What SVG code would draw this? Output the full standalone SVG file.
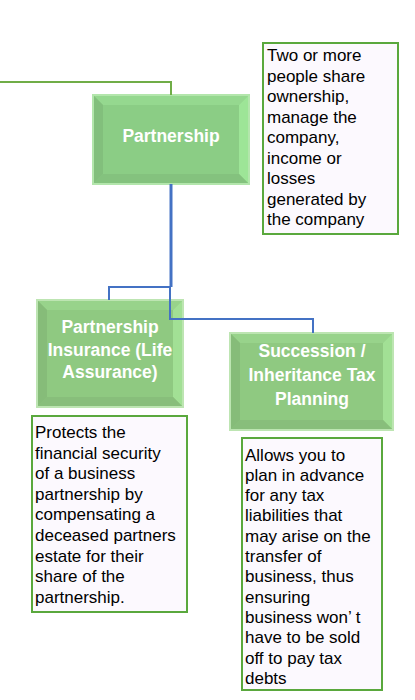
<svg xmlns="http://www.w3.org/2000/svg" width="415" height="700" viewBox="0 0 415 700">
<style>
.base{fill:#8BCD85;stroke:#B3E6AC;stroke-width:2}
.base2{fill:#8FC981;stroke:#BDE5B2;stroke-width:2}
.bt{fill:#95D88F}
.br{fill:#9DE597}
.bb{fill:#84C27E}
.bl{fill:#82BF7C}
.bt2{fill:#98D38B}
.br2{fill:#A2E095}
.bb2{fill:#88BE7B}
.bl2{fill:#86BC79}
.lbl{font-family:"Liberation Sans",Arial,sans-serif;font-weight:bold;font-size:17.5px;fill:#FFFFFF;text-anchor:middle}
.note{fill:#FCF9FE;stroke:#5AA83D;stroke-width:2}
.nt{font-family:"Liberation Sans",Arial,sans-serif;font-size:17px;fill:#000000}
.g{fill:none;stroke:#70AD47;stroke-width:2}
.b{fill:none;stroke:#4472C4;stroke-width:2}
.b3{fill:none;stroke:#4472C4;stroke-width:3}
</style>
<rect width="415" height="700" fill="#FFFFFF"/>

<g id="node-partnership">
<rect class="base" x="93" y="95" width="156" height="89"/>
<polygon class="bt" points="94,96 248,96 239,105 103,105"/>
<polygon class="br" points="248,96 248,183 239,174 239,105"/>
<polygon class="bb" points="94,183 248,183 239,174 103,174"/>
<polygon class="bl" points="94,96 103,105 103,174 94,183"/>
<rect x="103" y="105" width="136" height="69" fill="#8BCD85"/>
<text class="lbl" x="171" y="142">Partnership</text>
</g>

<g id="node-insurance">
<rect class="base2" x="37" y="300" width="146" height="107"/>
<polygon class="bt2" points="38,301 182,301 173,310 47,310"/>
<polygon class="br2" points="182,301 182,406 173,397 173,310"/>
<polygon class="bb2" points="38,406 182,406 173,397 47,397"/>
<polygon class="bl2" points="38,301 47,310 47,397 38,406"/>
<rect x="47" y="310" width="126" height="87" fill="#8FC981"/>
<text class="lbl" x="110" y="333">Partnership</text>
<text class="lbl" x="110" y="356">Insurance (Life</text>
<text class="lbl" x="110" y="378">Assurance)</text>
</g>

<g id="node-succession">
<rect class="base2" x="230" y="333" width="163" height="97"/>
<polygon class="bt2" points="231,334 392,334 383,343 240,343"/>
<polygon class="br2" points="392,334 392,429 383,420 383,343"/>
<polygon class="bb2" points="231,429 392,429 383,420 240,420"/>
<polygon class="bl2" points="231,334 240,343 240,420 231,429"/>
<rect x="240" y="343" width="143" height="77" fill="#8FC981"/>
<text class="lbl" x="312" y="357">Succession /</text>
<text class="lbl" x="312" y="381">Inheritance Tax</text>
<text class="lbl" x="312" y="405">Planning</text>
</g>

<g id="note-partnership">
<rect class="note" x="263" y="43" width="135" height="191"/>
<text class="nt" x="267" y="61">Two or more</text>
<text class="nt" x="267" y="81.5">people share</text>
<text class="nt" x="267" y="102">ownership,</text>
<text class="nt" x="267" y="122.5">manage the</text>
<text class="nt" x="267" y="143">company,</text>
<text class="nt" x="267" y="163.5">income or</text>
<text class="nt" x="267" y="184">losses</text>
<text class="nt" x="267" y="204.5">generated by</text>
<text class="nt" x="267" y="225">the company</text>
</g>

<g id="note-insurance">
<rect class="note" x="32" y="416" width="155" height="196"/>
<text class="nt" x="35" y="438">Protects the</text>
<text class="nt" x="35" y="458.6">financial security</text>
<text class="nt" x="35" y="479.2">of a business</text>
<text class="nt" x="35" y="499.8">partnership by</text>
<text class="nt" x="35" y="520.4">compensating a</text>
<text class="nt" x="35" y="541">deceased partners</text>
<text class="nt" x="35" y="561.6">estate for their</text>
<text class="nt" x="35" y="582.2">share of the</text>
<text class="nt" x="35" y="602.8">partnership.</text>
</g>

<g id="note-succession">
<rect class="note" x="242" y="438" width="140" height="252"/>
<text class="nt" x="245" y="460.5">Allows you to</text>
<text class="nt" x="245" y="480.8">plan in advance</text>
<text class="nt" x="245" y="501.1">for any tax</text>
<text class="nt" x="245" y="521.4">liabilities that</text>
<text class="nt" x="245" y="541.7">may arise on the</text>
<text class="nt" x="245" y="562">transfer of</text>
<text class="nt" x="245" y="582.3">business, thus</text>
<text class="nt" x="245" y="602.6">ensuring</text>
<text class="nt" x="245" y="622.9">business won’ t</text>
<text class="nt" x="245" y="643.2">have to be sold</text>
<text class="nt" x="245" y="663.5">off to pay tax</text>
<text class="nt" x="245" y="683.8">debts</text>
</g>

<g id="connectors">
<polyline class="g" points="0,82 171,82 171,95"/>
<polyline class="b3" points="171,184 171,287"/>
<polyline class="b" points="171,287 109,287 109,300"/>
<polyline class="b" points="170,287 170,319 313,319 313,333"/>
</g>
</svg>
